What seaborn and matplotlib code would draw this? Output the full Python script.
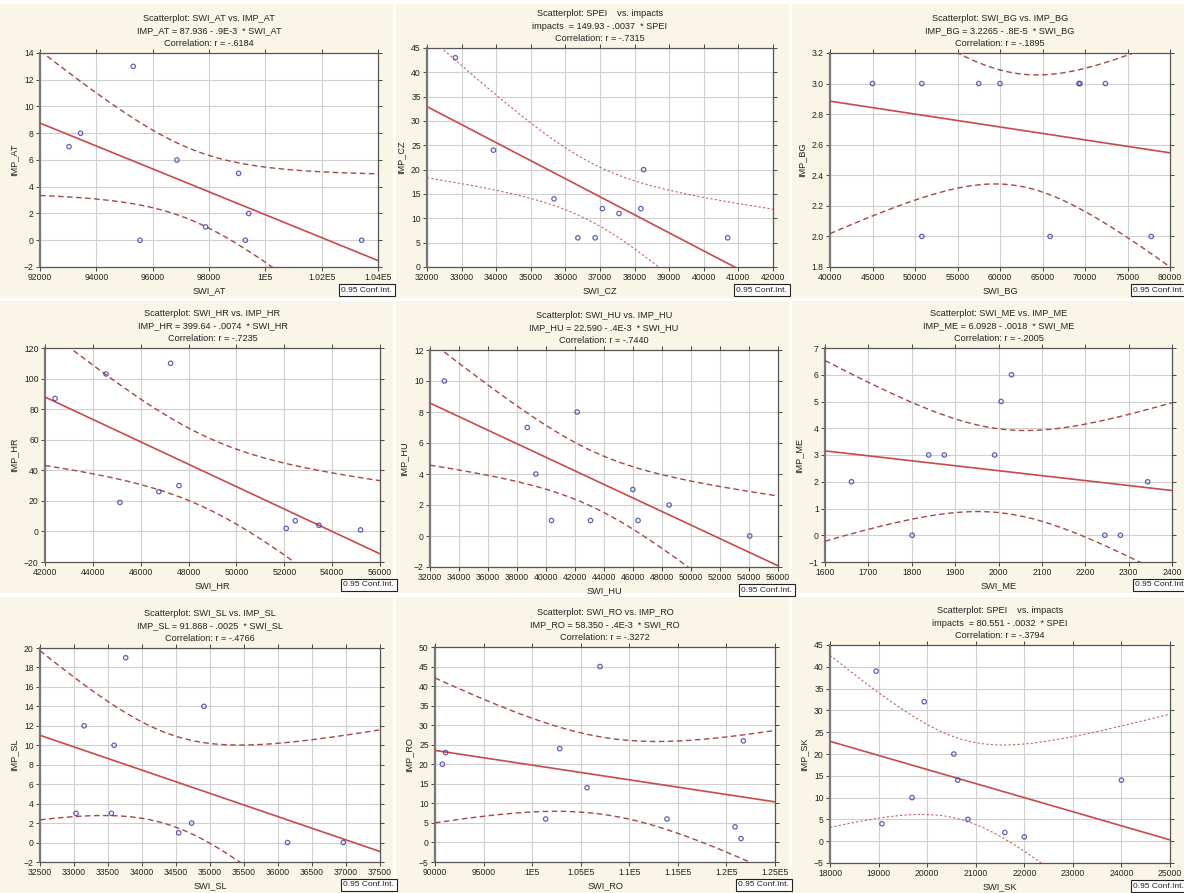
import math
import numpy as np
import matplotlib
matplotlib.use("Agg")
import matplotlib.pyplot as plt
from matplotlib.patches import Rectangle
import seaborn as sns

# ---------------- data ----------------
swi_at = [93030, 93440, 95310, 95550, 96860, 97880, 99050, 99290, 99410, 103420]
imp_at = [7, 8, 13, 0, 6, 1, 5, 0, 2, 0]

swi_cz = [32820, 33920, 35670, 36360, 36860, 37070, 37550, 38180, 38260, 40690]
imp_cz = [43, 24, 14, 6, 6, 12, 11, 12, 20, 6]

swi_bg = [45000, 50800, 57500, 60000, 69300, 69400, 72400, 50800, 65900, 77800]
imp_bg = [3, 3, 3, 3, 3, 3, 3, 2, 2, 2]

swi_hr = [42420, 44550, 47250, 45130, 46760, 47600, 52080, 52460, 53450, 55190]
imp_hr = [87, 103, 110, 19, 26, 30, 2, 7, 4, 1]

swi_hu = [32990, 38710, 42150, 39300, 40380, 43070, 45990, 46350, 48490, 54050]
imp_hu = [10, 7, 8, 4, 1, 1, 3, 1, 2, 0]

swi_me = [1661, 1801, 1839, 1875, 1991, 2006, 2030, 2245, 2281, 2344]
imp_me = [2, 0, 3, 3, 3, 5, 6, 0, 0, 2]

swi_sl = [33760, 33150, 33590, 34910, 33030, 33550, 34540, 34730, 36140, 36960]
imp_sl = [19, 12, 10, 14, 3, 3, 1, 2, 0, 0]

swi_ro = [90760, 91100, 106990, 102840, 105650, 101390, 113880, 121740, 120890, 121500]
imp_ro = [20, 23, 45, 24, 14, 6, 6, 26, 4, 1]

swi_sk = [18950, 19940, 20550, 20630, 19690, 19070, 20840, 21600, 22000, 24000]
imp_sk = [39, 32, 20, 14, 10, 4, 5, 2, 1, 14]

titles = [
    ["Scatterplot: SWI_AT vs. IMP_AT", "IMP_AT = 87.936 - .9E-3  * SWI_AT", "Correlation: r = -.6184"],
    ["Scatterplot: SPEI    vs. impacts", "impacts  = 149.93 - .0037  * SPEI", "Correlation: r = -.7315"],
    ["Scatterplot: SWI_BG vs. IMP_BG", "IMP_BG = 3.2265 - .8E-5  * SWI_BG", "Correlation: r = -.1895"],
    ["Scatterplot: SWI_HR vs. IMP_HR", "IMP_HR = 399.64 - .0074  * SWI_HR", "Correlation: r = -.7235"],
    ["Scatterplot: SWI_HU vs. IMP_HU", "IMP_HU = 22.590 - .4E-3  * SWI_HU", "Correlation: r = -.7440"],
    ["Scatterplot: SWI_ME vs. IMP_ME", "IMP_ME = 6.0928 - .0018  * SWI_ME", "Correlation: r = -.2005"],
    ["Scatterplot: SWI_SL vs. IMP_SL", "IMP_SL = 91.868 - .0025  * SWI_SL", "Correlation: r = -.4766"],
    ["Scatterplot: SWI_RO vs. IMP_RO", "IMP_RO = 58.350 - .4E-3  * SWI_RO", "Correlation: r = -.3272"],
    ["Scatterplot: SPEI    vs. impacts", "impacts  = 80.551 - .0032  * SPEI", "Correlation: r = -.3794"],
]
xlabels = ["SWI_AT", "SWI_CZ", "SWI_BG", "SWI_HR", "SWI_HU", "SWI_ME", "SWI_SL", "SWI_RO", "SWI_SK"]
ylabels = ["IMP_AT", "IMP_CZ", "IMP_BG", "IMP_HR", "IMP_HU", "IMP_ME", "IMP_SL", "IMP_RO", "IMP_SK"]

xticks_at = [92000, 94000, 96000, 98000, 100000, 102000, 104000]
xticklabels_at = ["92000", "94000", "96000", "98000", "1E5", "1.02E5", "1.04E5"]
yticks_at = [-2, 0, 2, 4, 6, 8, 10, 12, 14]

xticks_cz = list(range(32000, 42001, 1000))
xticklabels_cz = [str(v) for v in xticks_cz]
yticks_cz = list(range(0, 46, 5))

xticks_bg = list(range(40000, 80001, 5000))
xticklabels_bg = [str(v) for v in xticks_bg]
yticks_bg = [1.8, 2.0, 2.2, 2.4, 2.6, 2.8, 3.0, 3.2]
yticklabels_bg = ["1.8", "2.0", "2.2", "2.4", "2.6", "2.8", "3.0", "3.2"]

xticks_hr = list(range(42000, 56001, 2000))
xticklabels_hr = [str(v) for v in xticks_hr]
yticks_hr = list(range(-20, 121, 20))

xticks_hu = list(range(32000, 56001, 2000))
xticklabels_hu = [str(v) for v in xticks_hu]
yticks_hu = list(range(-2, 13, 2))

xticks_me = list(range(1600, 2401, 100))
xticklabels_me = [str(v) for v in xticks_me]
yticks_me = list(range(-1, 8))

xticks_sl = list(range(32500, 37501, 500))
xticklabels_sl = [str(v) for v in xticks_sl]
yticks_sl = list(range(-2, 21, 2))

xticks_ro = list(range(90000, 125001, 5000))
xticklabels_ro = ["90000", "95000", "1E5", "1.05E5", "1.1E5", "1.15E5", "1.2E5", "1.25E5"]
yticks_ro = list(range(-5, 51, 5))

xticks_sk = list(range(18000, 25001, 1000))
xticklabels_sk = [str(v) for v in xticks_sk]
yticks_sk = list(range(-5, 46, 5))

xs_all = [swi_at, swi_cz, swi_bg, swi_hr, swi_hu, swi_me, swi_sl, swi_ro, swi_sk]
ys_all = [imp_at, imp_cz, imp_bg, imp_hr, imp_hu, imp_me, imp_sl, imp_ro, imp_sk]
xt_all = [xticks_at, xticks_cz, xticks_bg, xticks_hr, xticks_hu, xticks_me, xticks_sl, xticks_ro, xticks_sk]
xtl_all = [xticklabels_at, xticklabels_cz, xticklabels_bg, xticklabels_hr, xticklabels_hu,
           xticklabels_me, xticklabels_sl, xticklabels_ro, xticklabels_sk]
yt_all = [yticks_at, yticks_cz, yticks_bg, yticks_hr, yticks_hu, yticks_me, yticks_sl, yticks_ro, yticks_sk]
ytl_all = [None, None, yticklabels_bg, None, None, None, None, None, None]
conf_label = "0.95 Conf.Int."

# ---------------- layout (pixels) ----------------
W, H = 1184, 893
axes_px = [
    (40, 53, 378, 267), (427, 48, 773, 267), (830, 53, 1170, 267),
    (45, 348, 380, 562), (430, 350, 778, 567), (825, 348, 1172, 562),
    (40, 648, 380, 862), (435, 647, 775, 862), (830, 645, 1170, 863),
]
panel_bg = [
    (0, 4, 393, 298), (396, 4, 789, 298), (792, 4, 1184, 298),
    (0, 301, 393, 593), (396, 301, 789, 593), (792, 301, 1184, 593),
    (0, 597, 393, 893), (396, 597, 789, 893), (792, 597, 1184, 893),
]
fine_dash = [False, True, False, False, False, False, False, False, True]

BEIGE = "#f9f5e7"
RED = "#c84a4a"
DARKRED = "#a84545"
PINK = "#c86060"
BLUE = "#3a3aa6"


def t_ppf975(df):
    c = math.gamma((df + 1) / 2) / (math.sqrt(df * math.pi) * math.gamma(df / 2))

    def cdf(t):
        g = np.linspace(0, t, 4001)
        return 0.5 + np.trapezoid(c * (1 + g ** 2 / df) ** (-(df + 1) / 2), g)

    lo, hi = 0.0, 20.0
    for _ in range(60):
        mid = (lo + hi) / 2
        if cdf(mid) < 0.975:
            lo = mid
        else:
            hi = mid
    return (lo + hi) / 2


sns.set_theme(style="white")
plt.rcParams["font.family"] = ["Liberation Sans", "DejaVu Sans"]

fig = plt.figure(figsize=(W / 100, H / 100), dpi=100)
fig.patch.set_facecolor("white")

for (l, t, r, b) in panel_bg:
    fig.patches.append(Rectangle((l / W, 1 - b / H), (r - l) / W, (b - t) / H,
                                 transform=fig.transFigure, facecolor=BEIGE,
                                 edgecolor="none", zorder=-10))

for i in range(9):
    l, t, r, b = axes_px[i]
    ax = fig.add_axes([l / W, 1 - b / H, (r - l) / W, (b - t) / H])
    ax.set_facecolor("white")
    xt, yt = xt_all[i], yt_all[i]
    ax.set_xlim(xt[0], xt[-1])
    ax.set_ylim(yt[0], yt[-1])
    x = np.asarray(xs_all[i], float)
    y = np.asarray(ys_all[i], float)

    sns.regplot(x=x, y=y, ax=ax, ci=None, truncate=False,
                scatter_kws=dict(s=10, color=BLUE, facecolors="none", linewidths=0.9, zorder=4),
                line_kws=dict(color=RED, lw=1.2, zorder=3))

    # 95% confidence band of the regression line
    n = len(x)
    slope, icpt = np.polyfit(x, y, 1)
    resid = y - (icpt + slope * x)
    s = math.sqrt(np.sum(resid ** 2) / (n - 2))
    sxx = np.sum((x - x.mean()) ** 2)
    tq = t_ppf975(n - 2)
    g = np.linspace(xt[0], xt[-1], 300)
    yh = icpt + slope * g
    half = tq * s * np.sqrt(1.0 / n + (g - x.mean()) ** 2 / sxx)
    if fine_dash[i]:
        dkw = dict(color=PINK, lw=0.8, dashes=(2, 2), zorder=3)
    else:
        dkw = dict(color=DARKRED, lw=1.0, dashes=(4, 2.5), zorder=3)
    ax.plot(g, yh + half, **dkw)
    ax.plot(g, yh - half, **dkw)

    ax.set_xlim(xt[0], xt[-1])
    ax.set_ylim(yt[0], yt[-1])
    ax.set_xticks(xt)
    ax.set_xticklabels(xtl_all[i])
    ax.set_yticks(yt)
    if ytl_all[i] is not None:
        ax.set_yticklabels(ytl_all[i])
    ax.grid(True, color="#cfcfcf", lw=0.8)
    ax.set_axisbelow(True)
    ax.tick_params(axis="both", which="both", direction="out", length=3, width=0.7,
                   color="#444444", labelsize=6.2, pad=1.5, labelcolor="#222222",
                   top=True, right=True, bottom=True, left=True)
    for sp in ax.spines.values():
        sp.set_color("#555555")
        sp.set_linewidth(0.9)
    ax.spines["left"].set_linewidth(1.6)
    ax.spines["left"].set_color("#777777")

    ax.set_title("\n".join(titles[i]), fontsize=6.6, color="#222222",
                 linespacing=1.5, pad=5)
    ax.set_xlabel(xlabels[i], fontsize=6.6, color="#222222", labelpad=3)
    ax.set_ylabel(ylabels[i], fontsize=6.6, color="#222222", labelpad=4)

    fig.text((r + 14) / W, 1 - (b + 23) / H, conf_label, ha="right", va="center",
             fontsize=6.0, color="#222222",
             bbox=dict(boxstyle="square,pad=0.3", fc="white", ec="#222222", lw=0.8))

fig.savefig("out.png", dpi=100, facecolor=fig.get_facecolor())
